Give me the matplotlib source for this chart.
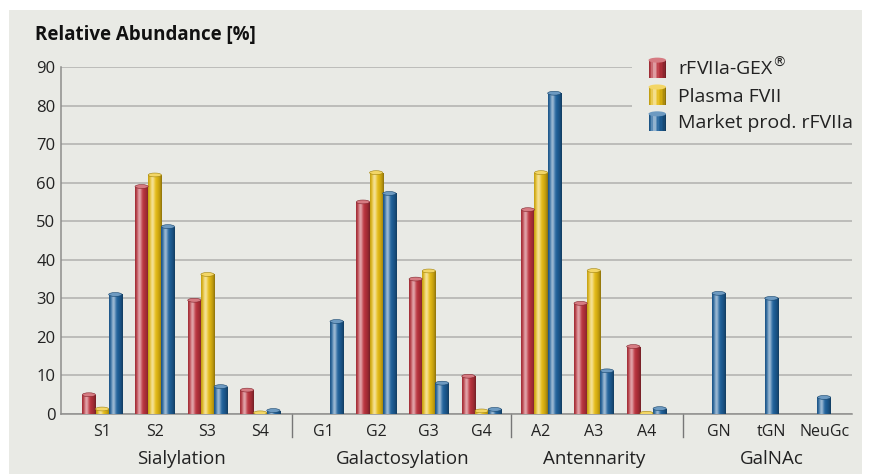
import numpy as np
import matplotlib
matplotlib.use('Agg')
import matplotlib.pyplot as plt
from matplotlib.patches import Rectangle, Ellipse, Patch
from matplotlib.legend_handler import HandlerBase

plt.rcParams['font.family'] = ['Open Sans', 'DejaVu Sans']

# data
categories = ['S1', 'S2', 'S3', 'S4', 'G1', 'G2', 'G3', 'G4', 'A2', 'A3', 'A4', 'GN', 'tGN', 'NeuGc']
groups = ['Sialylation', 'Galactosylation', 'Antennarity', 'GalNAc']
group_sizes = [4, 4, 3, 3]
series_names = ['rFVIIa-GEX$^{®}$', 'Plasma FVII', 'Market prod. rFVIIa']
gex = [5.0, 59.0, 29.5, 6.2, 0, 55.0, 35.0, 9.8, 53.0, 28.7, 17.5, None, None, None]
plasma = [1.3, 62.0, 36.2, 0.3, 0, 62.6, 37.1, 0.8, 62.6, 37.2, 0.2, None, None, None]
market = [31.0, 48.6, 7.1, 0.9, 24.0, 57.2, 8.0, 1.2, 83.2, 11.2, 1.4, 31.3, 30.0, 4.3]
colors = ['#c0343f', '#ecc013', '#1f64a0']

# layout: extra spacing between groups
group_gaps = [1.2, 1.13, 1.37]
xpos = []
x = 0.0
for gi, n in enumerate(group_sizes):
    for k in range(n):
        xpos.append(x)
        x += 1
    if gi < len(group_gaps):
        x += group_gaps[gi] - 1

BG = '#e9eae5'
fig = plt.figure(figsize=(8.69, 4.74), dpi=100, facecolor='white')
fig.patches.append(Rectangle((9 / 869, 0), 853 / 869, 464 / 474, transform=fig.transFigure,
                             facecolor=BG, edgecolor='none', zorder=-10))
ax = fig.add_axes([61 / 869, 60 / 474, 791 / 869, 347 / 474])
ax.set_facecolor('none')


def rgb(c):
    return np.array(matplotlib.colors.to_rgb(c))


def shade_profile(base, n=40):
    t = np.linspace(0, 1, n)
    light = 0.55 * np.exp(-((t - 0.32) / 0.17) ** 2)
    dark = 0.40 * t ** 4 + 0.18 * (1 - t) ** 6
    b = rgb(base)
    cols = b[None, :] * (1 - dark[:, None])
    cols = cols + (1 - cols) * light[:, None]
    return np.clip(cols, 0, 1)


def cap_color(base):
    b = rgb(base)
    return b + (1 - b) * 0.35


w = 0.25
for i, cat in enumerate(categories):
    vals = [gex[i], plasma[i], market[i]]
    present = [j for j, v in enumerate(vals) if v is not None]
    m = len(present)
    for k, j in enumerate(present):
        v = vals[j]
        if v <= 0:
            continue
        xc = xpos[i] + (k - (m - 1) / 2) * w
        rect = Rectangle((xc - w / 2, 0), w, v, facecolor='none', edgecolor='none')
        ax.add_patch(rect)
        img = shade_profile(colors[j])[None, :, :]
        im = ax.imshow(img, extent=(xc - w / 2, xc + w / 2, 0, v), aspect='auto',
                       interpolation='bilinear', zorder=3)
        im.set_clip_path(rect)
        ax.add_patch(Ellipse((xc, v), w, 1.0, facecolor=cap_color(colors[j]),
                             edgecolor=shade_profile(colors[j])[-3], linewidth=0.4, zorder=4))

ax.set_xlim(-0.78, 14.23)
ax.set_ylim(0, 90)
ax.set_yticks(np.arange(0, 91, 10))
ax.yaxis.grid(True, color='#b5b5b2', linewidth=1.2, zorder=0)
ax.set_axisbelow(True)
for s in ['top', 'right']:
    ax.spines[s].set_visible(False)
for s in ['left', 'bottom']:
    ax.spines[s].set_color('#8e8e8c')
    ax.spines[s].set_linewidth(1.1)
ax.tick_params(axis='y', length=0, pad=4, labelsize=12, labelcolor='#222222')
ax.set_xticks(xpos)
ax.set_xticklabels(categories)
ax.tick_params(axis='x', length=0, pad=7, labelsize=11.5, labelcolor='#222222')

# separators and group labels
start = 0
for gi, n in enumerate(group_sizes):
    first, last = xpos[start], xpos[start + n - 1]
    ax.text((first + last) / 2, -11.7, groups[gi], ha='center', va='center',
            fontsize=13.5, color='#222222')
    if gi < len(group_sizes) - 1:
        sep = (last + xpos[start + n]) / 2
        ax.plot([sep, sep], [0, -6], color='#777777', linewidth=1.0, clip_on=False)
    start += n

fig.text(35 / 869, 1 - 35 / 474, 'Relative Abundance [%]', fontsize=13.5, fontweight='bold',
         ha='left', va='center', color='#111111')

# background block behind the legend hides the upper grid lines
ax.add_patch(Rectangle((632 / 869, 1 - 135 / 474), 222 / 869, 87 / 474, transform=fig.transFigure,
                       facecolor=BG, edgecolor='none', zorder=1))


class HandlerCyl(HandlerBase):
    def create_artists(self, legend, orig_handle, xdescent, ydescent, width, height, fontsize, trans):
        base = orig_handle.get_facecolor()
        cols = shade_profile(base, 12)
        arts = []
        hh = height * 1.05
        y0 = -ydescent - 0.08 * height
        for k in range(12):
            arts.append(Rectangle((-xdescent + k * width / 12, y0), width / 12 + 0.3, hh,
                                  facecolor=cols[k], edgecolor='none', transform=trans))
        arts.append(Ellipse((-xdescent + width / 2, y0 + hh), width, height * 0.3,
                            facecolor=cap_color(base), edgecolor='none', transform=trans))
        return arts


handles = [Patch(facecolor=c) for c in colors]
leg = ax.legend(handles, series_names, handler_map={Patch: HandlerCyl()},
                loc='upper left', bbox_to_anchor=(631 / 869, 1 - 39 / 474),
                bbox_transform=fig.transFigure, frameon=False, fontsize=14,
                handlelength=0.9, handleheight=0.95, handletextpad=0.6, labelspacing=0.4,
                borderpad=0.4)
for t in leg.get_texts():
    t.set_color('#222222')

fig.savefig('out.png', dpi=100, facecolor='white')
